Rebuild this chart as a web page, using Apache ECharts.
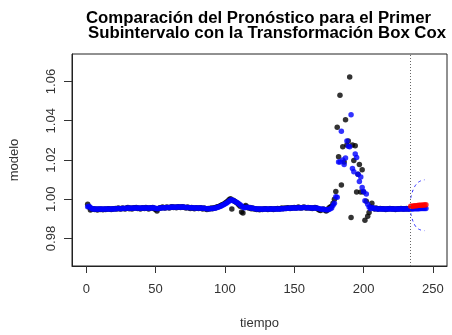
<!DOCTYPE html>
<html>
<head>
<meta charset="utf-8">
<script src="https://cdn.jsdelivr.net/npm/echarts@6/dist/echarts.min.js"></script>
<style>
  html, body { margin: 0; padding: 0; background: #fff; }
  #main { width: 452px; height: 335px; }
</style>
</head>
<body>
<div id="main"></div>
<script>
// observed series (black), t = 1..233
var blackVals = [
  0.9975, 0.9960, 0.9945, 0.9950, 0.9952, 0.9948, 0.9950, 0.9945, 0.9950, 0.9948,
  0.9950, 0.9947, 0.9950, 0.9948, 0.9950, 0.9952, 0.9950, 0.9948, 0.9952, 0.9950,
  0.9953, 0.9950, 0.9955, 0.9952, 0.9950, 0.9955, 0.9953, 0.9950, 0.9955, 0.9958,
  0.9952, 0.9955, 0.9950, 0.9957, 0.9955, 0.9958, 0.9953, 0.9955, 0.9950, 0.9955,
  0.9957, 0.9953, 0.9958, 0.9955, 0.9950, 0.9957, 0.9955, 0.9958, 0.9952, 0.9948,
  0.9940, 0.9952, 0.9957, 0.9955, 0.9960, 0.9957, 0.9955, 0.9960, 0.9958, 0.9955,
  0.9960, 0.9962, 0.9958, 0.9960, 0.9957, 0.9962, 0.9960, 0.9958, 0.9962, 0.9960,
  0.9958, 0.9955, 0.9960, 0.9957, 0.9953, 0.9958, 0.9955, 0.9952, 0.9957, 0.9955,
  0.9953, 0.9957, 0.9955, 0.9950, 0.9955, 0.9952, 0.9948, 0.9953, 0.9950, 0.9955,
  0.9952, 0.9957, 0.9955, 0.9960, 0.9962, 0.9965, 0.9968, 0.9972, 0.9975, 0.9980,
  0.9985, 0.9990, 0.9998, 1.0002, 0.9950, 0.9995, 0.9990, 0.9985, 0.9980, 0.9972,
  0.9965, 0.9935, 0.9930, 0.9962, 0.9968, 0.9960, 0.9955, 0.9958, 0.9952, 0.9955,
  0.9950, 0.9952, 0.9948, 0.9950, 0.9947, 0.9950, 0.9948, 0.9950, 0.9952, 0.9950,
  0.9948, 0.9950, 0.9952, 0.9950, 0.9948, 0.9952, 0.9950, 0.9953, 0.9950, 0.9952,
  0.9955, 0.9952, 0.9955, 0.9953, 0.9957, 0.9955, 0.9953, 0.9957, 0.9955, 0.9958,
  0.9955, 0.9957, 0.9960, 0.9957, 0.9955, 0.9958, 0.9960, 0.9957, 0.9955, 0.9958,
  0.9955, 0.9957, 0.9953, 0.9955, 0.9958, 0.9955, 0.9950, 0.9945, 0.9943, 0.9948,
  0.9950, 0.9945, 0.9940, 0.9945, 0.9955, 0.9960, 0.9965,
  0.9980, 1.0000, 1.0040, 1.0367, 1.0217, 1.0530, 1.0073, 1.0268, 1.0190, 1.0405,
  1.0277, 1.0297, 1.0623, 0.9907, 1.0277, 1.0197, 1.0273, 1.0037, 1.0127, 1.0177,
  1.0037, 1.0150, 1.0037, 0.9893, 0.9990, 0.9913, 0.9933, 0.9960, 0.9980, 0.9955,
  0.9950, 0.9955, 0.9950,
  0.9950, 0.9953, 0.9950, 0.9952, 0.9950, 0.9948, 0.9952, 0.9950, 0.9953, 0.9950,
  0.9952, 0.9950, 0.9948, 0.9950, 0.9952, 0.9950, 0.9953, 0.9950, 0.9952, 0.9950,
  0.9953, 0.9950, 0.9952
];

// model (blue), t = 1..245
var blueVals = [
  0.9962, 0.9965, 0.9958, 0.9952, 0.9950, 0.9951, 0.9950, 0.9949, 0.9950, 0.9950,
  0.9950, 0.9949, 0.9950, 0.9950, 0.9950, 0.9951, 0.9951, 0.9950, 0.9951, 0.9951,
  0.9952, 0.9952, 0.9953, 0.9953, 0.9952, 0.9953, 0.9954, 0.9953, 0.9954, 0.9955,
  0.9955, 0.9954, 0.9954, 0.9955, 0.9955, 0.9956, 0.9955, 0.9955, 0.9954, 0.9955,
  0.9956, 0.9955, 0.9956, 0.9956, 0.9955, 0.9956, 0.9956, 0.9957, 0.9955, 0.9954,
  0.9952, 0.9953, 0.9955, 0.9956, 0.9957, 0.9957, 0.9957, 0.9958, 0.9958, 0.9958,
  0.9959, 0.9960, 0.9959, 0.9959, 0.9959, 0.9960, 0.9960, 0.9959, 0.9960, 0.9960,
  0.9959, 0.9958, 0.9958, 0.9958, 0.9957, 0.9957, 0.9957, 0.9956, 0.9956, 0.9956,
  0.9955, 0.9956, 0.9955, 0.9954, 0.9954, 0.9953, 0.9952, 0.9952, 0.9952, 0.9953,
  0.9953, 0.9954, 0.9955, 0.9957, 0.9959, 0.9962, 0.9965, 0.9968, 0.9972, 0.9976,
  0.9980, 0.9985, 0.9990, 0.9995, 0.9997, 0.9993, 0.9990, 0.9986, 0.9982, 0.9977,
  0.9972, 0.9966, 0.9960, 0.9957, 0.9958, 0.9959, 0.9958, 0.9957, 0.9955, 0.9954,
  0.9953, 0.9952, 0.9951, 0.9950, 0.9950, 0.9950, 0.9949, 0.9950, 0.9950, 0.9950,
  0.9950, 0.9950, 0.9950, 0.9950, 0.9950, 0.9950, 0.9950, 0.9951, 0.9951, 0.9951,
  0.9952, 0.9952, 0.9953, 0.9953, 0.9954, 0.9954, 0.9954, 0.9955, 0.9955, 0.9956,
  0.9956, 0.9956, 0.9957, 0.9957, 0.9957, 0.9957, 0.9958, 0.9958, 0.9957, 0.9957,
  0.9957, 0.9956, 0.9956, 0.9955, 0.9955, 0.9955, 0.9954, 0.9952, 0.9950, 0.9949,
  0.9949, 0.9948, 0.9947, 0.9946, 0.9948, 0.9952, 0.9956,
  0.9970, 0.9980, 1.0013, 1.0010, 1.0190, 1.0190, 1.0347, 1.0200, 1.0177, 1.0210,
  1.0297, 1.0270, 1.0267, 1.0430, 1.0157, 1.0140, 1.0230, 1.0213, 1.0127, 1.0090,
  1.0113, 1.0060, 1.0040, 0.9993, 1.0027, 0.9975, 0.9960, 0.9952, 0.9958, 0.9955,
  0.9952, 0.9953, 0.9951,
  0.9951, 0.9952, 0.9951, 0.9951, 0.9950, 0.9950, 0.9951, 0.9951, 0.9952, 0.9951,
  0.9951, 0.9950, 0.9950, 0.9951, 0.9951, 0.9951, 0.9952, 0.9951, 0.9951, 0.9951,
  0.9952, 0.9951, 0.9951,
  0.9951, 0.9951, 0.9952, 0.9952, 0.9952, 0.9952, 0.9952, 0.9953, 0.9953, 0.9953,
  0.9953, 0.9953
];

// forecast (red), t = 234..245
var forecastStart = 234;
var redVals = [0.9964, 0.9965, 0.9966, 0.9967, 0.9967, 0.9968, 0.9969, 0.9969, 0.9970, 0.9971, 0.9971, 0.9972];

// interval bands
var ciT = [234, 235, 236, 237, 238, 239, 240, 241, 242, 243, 244];
var ciUpper = [1.0005, 1.0032, 1.0052, 1.0066, 1.0076, 1.0084, 1.0089, 1.0093, 1.0096, 1.0098, 1.0099];
var ciLower = [0.9930, 0.9902, 0.9882, 0.9868, 0.9858, 0.9851, 0.9847, 0.9844, 0.9842, 0.9841, 0.9840];

var cutT = 234;
var xTicks = [0, 50, 100, 150, 200, 250];
var yTicks = [0.98, 1.00, 1.02, 1.04, 1.06];

function pairs(vals, t0) {
  return vals.map(function (v, i) { return [t0 + i, v]; });
}

var font = 'Liberation Sans, Arial, sans-serif';
var chart = echarts.init(document.getElementById('main'));

chart.setOption({
  animation: false,
  title: [
    {
      text: 'Comparación del Pronóstico para el Primer',
      left: 86, top: 10, padding: 0,
      textStyle: { fontSize: 16.8, fontWeight: 'bold', fontFamily: font, color: '#000' }
    },
    {
      text: 'Subintervalo con la Transformación Box Cox',
      left: 88, top: 25, padding: 0,
      textStyle: { fontSize: 16.8, fontWeight: 'bold', fontFamily: font, color: '#000' }
    }
  ],
  grid: {
    left: 71, right: 5, top: 54, bottom: 65,
    show: true, borderColor: '#222', borderWidth: 1
  },
  xAxis: {
    type: 'value',
    min: -10.3, max: 260.2,
    name: 'tiempo', nameLocation: 'middle', nameGap: 51,
    nameTextStyle: { fontSize: 13, fontFamily: font, color: '#333' },
    axisLine: { show: true, onZero: false, lineStyle: { color: '#222' } },
    axisTick: { show: true, customValues: xTicks, length: 7, lineStyle: { color: '#333' } },
    axisLabel: { customValues: xTicks, fontSize: 13, fontFamily: font, color: '#333', margin: 17 },
    splitLine: { show: false }
  },
  yAxis: {
    type: 'value',
    min: 0.966, max: 1.074,
    name: 'modelo', nameLocation: 'middle', nameGap: 51,
    nameTextStyle: { fontSize: 13, fontFamily: font, color: '#333' },
    axisLine: { show: true, onZero: false, lineStyle: { color: '#222' } },
    axisTick: { show: true, customValues: yTicks, length: 8, lineStyle: { color: '#333' } },
    axisLabel: {
      customValues: yTicks, rotate: 90, fontSize: 13, fontFamily: font, color: '#333', margin: 14,
      formatter: function (v) { return v.toFixed(2); }
    },
    splitLine: { show: false }
  },
  series: [
    {
      type: 'scatter', name: 'observado',
      data: pairs(blackVals, 1),
      symbolSize: 5.5,
      itemStyle: { color: '#000' }
    },
    {
      type: 'scatter', name: 'modelo',
      data: pairs(blueVals, 1),
      symbolSize: 5.5,
      itemStyle: { color: '#0000ff' }
    },
    {
      type: 'scatter', name: 'pronostico',
      data: pairs(redVals, forecastStart),
      symbolSize: 5.5,
      itemStyle: { color: '#ff0000' }
    },
    {
      type: 'line', name: 'superior',
      data: ciT.map(function (t, i) { return [t, ciUpper[i]]; }),
      showSymbol: false, smooth: true,
      lineStyle: { color: '#2a2aff', width: 1, type: [3, 3] },
      markLine: {
        silent: true, symbol: ['none', 'none'],
        label: { show: false },
        lineStyle: { color: '#666', width: 1, type: [1, 2] },
        data: [{ xAxis: cutT }]
      }
    },
    {
      type: 'line', name: 'inferior',
      data: ciT.map(function (t, i) { return [t, ciLower[i]]; }),
      showSymbol: false, smooth: true,
      lineStyle: { color: '#2a2aff', width: 1, type: [3, 3] }
    }
  ]
});
</script>
</body>
</html>
